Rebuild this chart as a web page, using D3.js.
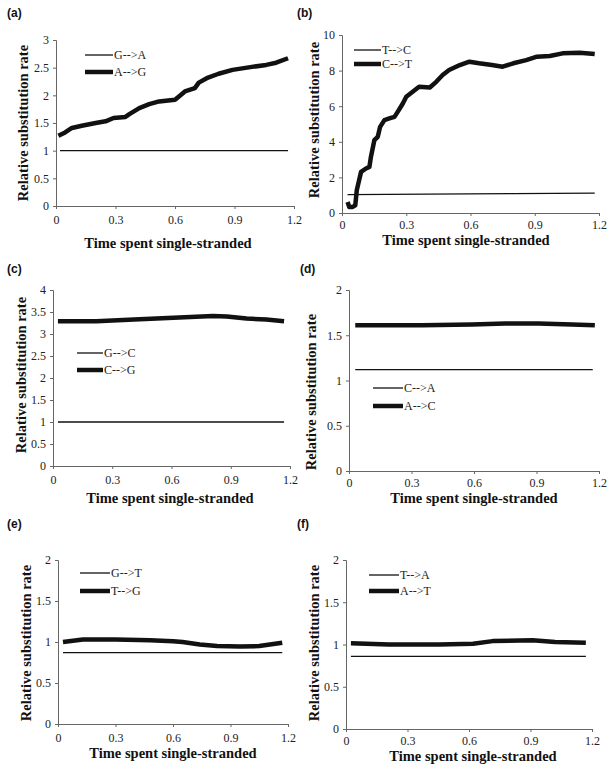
<!DOCTYPE html>
<html><head><meta charset="utf-8">
<script src="https://cdn.jsdelivr.net/npm/d3@7"></script>
<style>body{margin:0;background:#fff}svg{display:block}</style>
</head><body>
<svg id="chart" width="612" height="774"></svg>
<script>
// ---- data ----
const xTicks = [0, 0.3, 0.6, 0.9, 1.2];
const panelLetters = ["(a)", "(b)", "(c)", "(d)", "(e)", "(f)"];
const yMaxes = [3, 10, 4, 2, 2, 2];
const yStepTicks = [0.5, 2, 0.5, 0.5, 0.5, 0.5];
const thinNames = ["G-->A", "T-->C", "G-->C", "C-->A", "G-->T", "T-->A"];
const thickNames = ["A-->G", "C-->T", "C-->G", "A-->C", "T-->G", "A-->T"];

// (a)
const timeA = [0.012,0.046,0.08,0.13,0.2,0.25,0.29,0.35,0.37,0.42,0.47,0.52,0.6,0.62,0.65,0.7,0.72,0.76,0.82,0.89,0.98,1.06,1.11,1.17];
const rateAG = [1.27,1.33,1.41,1.45,1.5,1.53,1.59,1.61,1.66,1.77,1.84,1.89,1.92,1.98,2.07,2.13,2.23,2.31,2.39,2.46,2.51,2.55,2.59,2.67];
const timeAthin = [0.02, 1.17];
const rateGA = [1.0, 1.0];
// (b)
const timeB = [0.026,0.034,0.05,0.062,0.069,0.078,0.089,0.112,0.128,0.135,0.151,0.167,0.178,0.198,0.221,0.245,0.26,0.284,0.3,0.33,0.36,0.41,0.44,0.47,0.5,0.55,0.595,0.64,0.7,0.75,0.8,0.86,0.91,0.97,1.03,1.11,1.18];
const rateCT = [0.62,0.34,0.34,0.43,1.28,1.74,2.31,2.5,2.59,3.15,4.09,4.28,4.84,5.22,5.31,5.4,5.68,6.15,6.53,6.81,7.09,7.05,7.37,7.75,8.03,8.31,8.5,8.41,8.31,8.22,8.41,8.59,8.78,8.82,8.97,9.0,8.93];
const timeBthin = [0.026, 0.4, 0.8, 1.18];
const rateTC = [1.03, 1.06, 1.09, 1.12];
// (c)
const timeC = [0.025,0.22,0.41,0.61,0.81,0.88,0.98,1.08,1.17];
const rateCG = [3.29,3.29,3.33,3.37,3.41,3.40,3.35,3.33,3.29];
const timeCthin = [0.025, 1.17];
const rateGC = [1.0, 1.0];
// (d)
const timeD = [0.03,0.35,0.59,0.75,0.91,1.07,1.18];
const rateAC = [1.61,1.61,1.62,1.63,1.63,1.62,1.61];
const timeDthin = [0.03, 1.17];
const rateCA = [1.12, 1.12];
// (e)
const timeE = [0.026,0.13,0.3,0.48,0.6,0.65,0.74,0.83,0.95,1.05,1.17];
const rateTG = [1.0,1.03,1.03,1.02,1.01,1.0,0.97,0.95,0.945,0.95,0.99];
const timeEthin = [0.026, 1.17];
const rateGT = [0.87, 0.87];
// (f)
const timeF = [0.024,0.21,0.455,0.62,0.715,0.91,1.02,1.17];
const rateAT = [1.014,1.0,1.0,1.01,1.04,1.05,1.03,1.02];
const timeFthin = [0.024, 1.17];
const rateTA = [0.86, 0.86];

const thickX = [timeA, timeB, timeC, timeD, timeE, timeF];
const thickY = [rateAG, rateCT, rateCG, rateAC, rateTG, rateAT];
const thinX = [timeAthin, timeBthin, timeCthin, timeDthin, timeEthin, timeFthin];
const thinY = [rateGA, rateTC, rateGC, rateCA, rateGT, rateTA];

// ---- layout ----
const boxes = [
  {x0:56, x1:294, yT:40, yB:206, pad:6, lab:[7,17], yt:[25,123], xt:[168,248], lg:[85,113,55,72]},
  {x0:342, x1:599, yT:35, yB:213, pad:4, lab:[297,17], yt:[316,120], xt:[466,245], lg:[354,381,50,64]},
  {x0:53, x1:290, yT:290, yB:466, pad:6, lab:[7,273], yt:[23,375], xt:[170,503], lg:[77,103,353,370]},
  {x0:349, x1:599, yT:290, yB:471, pad:4, lab:[300,273], yt:[313,392], xt:[474,503], lg:[373,403,388,406]},
  {x0:58, x1:288, yT:560, yB:724, pad:6, lab:[7,528], yt:[28,643], xt:[173,758], lg:[80,110,573,591]},
  {x0:346, x1:592, yT:560, yB:729, pad:4, lab:[297,528], yt:[316,643], xt:[473,761], lg:[369,399,575,591]}
];

const svg = d3.select("#chart");
const serif = "'Liberation Serif','Times New Roman',serif";
const sans = "'Liberation Sans',Arial,sans-serif";

boxes.forEach((b, i) => {
  const x = d3.scaleLinear().domain([0, 1.2]).range([b.x0, b.x1]);
  const y = d3.scaleLinear().domain([0, yMaxes[i]]).range([b.yB, b.yT]);
  const g = svg.append("g");
  const yt = d3.range(0, yMaxes[i] + 1e-9, yStepTicks[i]);

  const xa = g.append("g").attr("transform", `translate(0,${b.yB})`)
    .call(d3.axisBottom(x).tickValues(xTicks).tickSize(3).tickPadding(b.pad).tickFormat(d3.format("")));
  const ya = g.append("g").attr("transform", `translate(${b.x0},0)`)
    .call(d3.axisLeft(y).tickValues(yt).tickSize(3).tickPadding(4).tickFormat(d3.format("")));
  [xa, ya].forEach(a => {
    a.selectAll("path").attr("stroke", "#666").attr("stroke-width", 1);
    a.selectAll("line").attr("stroke", "#666");
    a.selectAll("text").attr("font-family", serif).attr("font-size", 12).attr("fill", "#222");
  });

  const line = d3.line().x(d => x(d[0])).y(d => y(d[1]));
  g.append("path").datum(thinX[i].map((t, k) => [t, thinY[i][k]]))
    .attr("d", line).attr("fill", "none").attr("stroke", "#111").attr("stroke-width", 1.3);
  g.append("path").datum(thickX[i].map((t, k) => [t, thickY[i][k]]))
    .attr("d", line).attr("fill", "none").attr("stroke", "#111").attr("stroke-width", 4.5)
    .attr("stroke-linejoin", "round");

  // legend
  const [lx0, lx1, ly1, ly2] = b.lg;
  g.append("line").attr("x1", lx0).attr("x2", lx1).attr("y1", ly1).attr("y2", ly1).attr("stroke", "#111").attr("stroke-width", 1.3);
  g.append("line").attr("x1", lx0).attr("x2", lx1).attr("y1", ly2).attr("y2", ly2).attr("stroke", "#111").attr("stroke-width", 4.5);
  g.append("text").attr("x", lx1 + 1).attr("y", ly1 + 4).text(thinNames[i])
    .attr("font-family", serif).attr("font-size", 12).attr("fill", "#222");
  g.append("text").attr("x", lx1 + 1).attr("y", ly2 + 4).text(thickNames[i])
    .attr("font-family", serif).attr("font-size", 12).attr("fill", "#222");

  // panel letter
  g.append("text").attr("x", b.lab[0]).attr("y", b.lab[1]).text(panelLetters[i])
    .attr("font-family", sans).attr("font-weight", "bold").attr("font-size", 12).attr("fill", "#111");
  // axis titles
  g.append("text").attr("transform", `translate(${b.yt[0]},${b.yt[1]}) rotate(-90)`)
    .attr("text-anchor", "middle").attr("dominant-baseline", "middle")
    .text("Relative substitution rate")
    .attr("font-family", serif).attr("font-weight", "bold").attr("font-size", 14.5).attr("fill", "#111");
  g.append("text").attr("x", b.xt[0]).attr("y", b.xt[1]).attr("text-anchor", "middle")
    .text("Time spent single-stranded")
    .attr("font-family", serif).attr("font-weight", "bold").attr("font-size", 14.5).attr("fill", "#111");
});
</script>
</body></html>
